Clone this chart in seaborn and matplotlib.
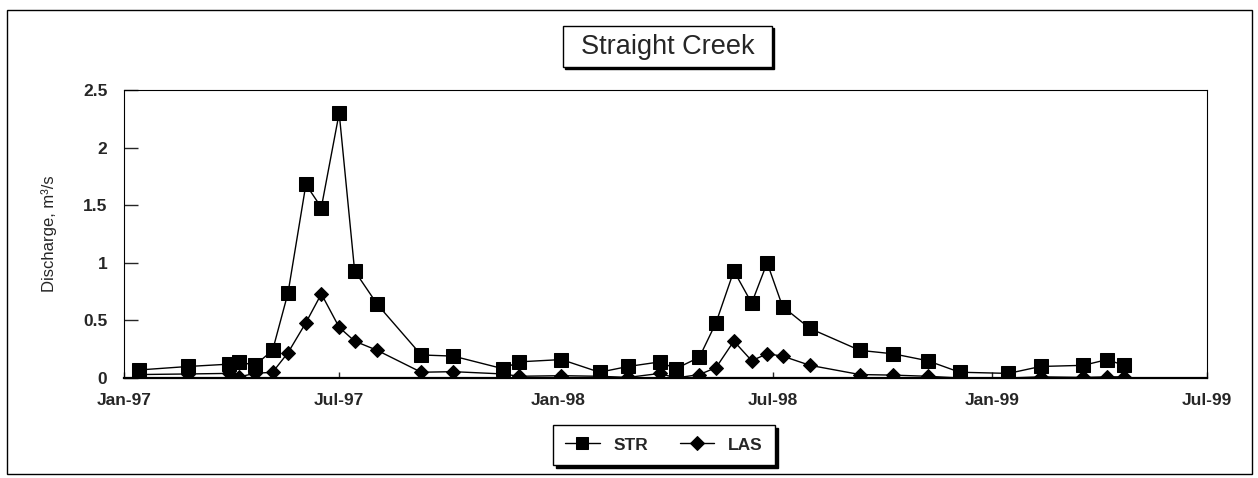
import numpy as np
import pandas as pd
import seaborn as sns
import matplotlib
matplotlib.use('Agg')
from matplotlib import pyplot as plt
import matplotlib.dates as mdates
from matplotlib.patches import Rectangle
from matplotlib.ticker import FuncFormatter


sample_dates = ['1997-01-14', '1997-02-24', '1997-03-30', '1997-04-08', '1997-04-21',
                '1997-05-06', '1997-05-19', '1997-06-03', '1997-06-16', '1997-07-01',
                '1997-07-14', '1997-08-02', '1997-09-08', '1997-10-05', '1997-11-16',
                '1997-11-29', '1998-01-04', '1998-02-05', '1998-03-01', '1998-03-28',
                '1998-04-10', '1998-04-30', '1998-05-14', '1998-05-29', '1998-06-13',
                '1998-06-26', '1998-07-09', '1998-08-01', '1998-09-12', '1998-10-10',
                '1998-11-08', '1998-12-05', '1999-01-15', '1999-02-11', '1999-03-19',
                '1999-04-08', '1999-04-22']

str_q = [0.07, 0.10, 0.12, 0.14, 0.11,
         0.24, 0.74, 1.68, 1.48, 2.30,
         0.93, 0.64, 0.20, 0.19, 0.08,
         0.14, 0.16, 0.05, 0.10, 0.14,
         0.08, 0.18, 0.48, 0.93, 0.65,
         1.00, 0.62, 0.43, 0.24, 0.21,
         0.15, 0.05, 0.04, 0.10, 0.11,
         0.16, 0.11]

las_q = [0.03, 0.035, 0.04, 0.01, 0.04,
         0.05, 0.22, 0.48, 0.73, 0.44,
         0.32, 0.24, 0.05, 0.055, 0.035,
         0.015, 0.02, 0.015, 0.005, 0.04,
         0.0, 0.03, 0.09, 0.32, 0.15,
         0.21, 0.19, 0.11, 0.03, 0.025,
         0.015, 0.0, 0.0, 0.01, 0.005,
         0.01, 0.01]

sites = ['STR', 'LAS']
y_ticks = [0, 0.5, 1, 1.5, 2, 2.5]


sns.set_style('white')
plt.rcParams['font.family'] = ['Liberation Sans', 'DejaVu Sans']

df = pd.DataFrame({
    'date': pd.to_datetime(sample_dates * 2),
    'q': str_q + las_q,
    'site': ['STR'] * len(str_q) + ['LAS'] * len(las_q),
})

W, H = 1258, 478
fig = plt.figure(figsize=(W / 100, H / 100), dpi=100)
ax = fig.add_axes([124 / W, 1 - 378 / H, (1207 - 124) / W, (378 - 90) / H])

sns.lineplot(data=df, x='date', y='q', style='site', style_order=sites,
             markers={'STR': 's', 'LAS': 'D'}, dashes=False, color='black',
             linewidth=1.0, markersize=10, markeredgecolor='black', ax=ax)

# diamonds are a bit smaller than the squares
for ln in ax.lines:
    if ln.get_marker() == 'D':
        ln.set_markersize(7)

ax.set_xlim(pd.Timestamp('1997-01-01'), pd.Timestamp('1999-07-01'))
ax.set_ylim(0, 2.5)
ax.xaxis.set_major_locator(mdates.MonthLocator(bymonth=[1, 7]))
ax.xaxis.set_major_formatter(mdates.DateFormatter('%b-%y'))
ax.set_yticks(y_ticks)
ax.yaxis.set_major_formatter(FuncFormatter(lambda v, p: f'{v:g}'))

ax.tick_params(axis='y', direction='in', length=10, width=1, pad=12,
               labelsize=12.5, left=True)
ax.tick_params(axis='x', direction='in', length=4, width=1, pad=11,
               labelsize=12.5, bottom=True)
for lab in ax.get_xticklabels() + ax.get_yticklabels():
    lab.set_fontweight('bold')

for side in ['top', 'right', 'left']:
    ax.spines[side].set_color('black')
    ax.spines[side].set_linewidth(0.8)
ax.spines['bottom'].set_color('black')
ax.spines['bottom'].set_linewidth(1.6)

ax.set_xlabel('')
ax.set_ylabel('Discharge, m³/s', fontsize=12)
ax.yaxis.set_label_coords(-0.062, 0.5)

# legend box at the bottom
sns.move_legend(ax, loc='center', bbox_to_anchor=(664 / W, 1 - 445 / H),
                bbox_transform=fig.transFigure, ncol=2, title=None,
                frameon=True, fancybox=False,
                shadow={'color': 'black', 'ox': 2, 'oy': -2, 'alpha': 1},
                edgecolor='black', framealpha=1, handlelength=2.0, columnspacing=1.8,
                borderpad=0.7, prop={'weight': 'bold', 'size': 12.5})
leg = ax.get_legend()
leg.get_frame().set_linewidth(1.0)
for h in leg.legend_handles:
    if h.get_marker() == 's':
        h.set_markersize(9)
    else:
        h.set_markersize(7)

# title box with drop shadow
tx0, ty0, tx1, ty1 = 563, 26, 772, 67
fig.add_artist(Rectangle((tx0 / W + 2 / W, 1 - ty1 / H - 2 / H), (tx1 - tx0) / W, (ty1 - ty0) / H,
                         transform=fig.transFigure, facecolor='black', edgecolor='black'))
fig.add_artist(Rectangle((tx0 / W, 1 - ty1 / H), (tx1 - tx0) / W, (ty1 - ty0) / H,
                         transform=fig.transFigure, facecolor='white', edgecolor='black', linewidth=1.0))
fig.text((tx0 + tx1) / 2 / W, 1 - (ty0 + ty1) / 2 / H, 'Straight Creek',
         ha='center', va='center', fontsize=19.5)

# outer chart frame
fig.add_artist(Rectangle((7 / W, 1 - 474 / H), (1252 - 7) / W, (474 - 10) / H,
                         transform=fig.transFigure, facecolor='none', edgecolor='black', linewidth=1.0))

fig.savefig('out.png', dpi=100)
